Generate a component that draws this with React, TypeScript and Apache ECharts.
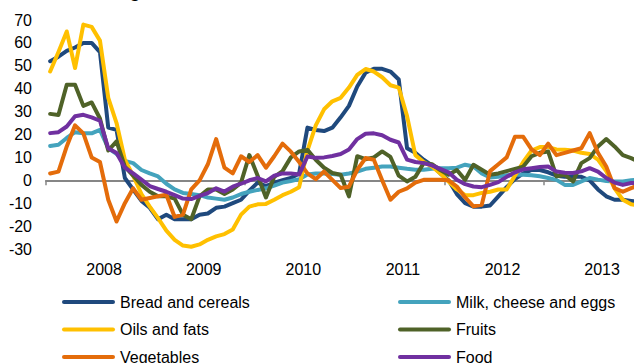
import React, { useEffect, useRef } from "react";
import * as echarts from "echarts";

// Monthly observations, June 2007 to May 2013
const months = [
  "2007-06", "2007-07", "2007-08", "2007-09", "2007-10", "2007-11", "2007-12",
  "2008-01", "2008-02", "2008-03", "2008-04", "2008-05", "2008-06", "2008-07", "2008-08", "2008-09", "2008-10", "2008-11", "2008-12",
  "2009-01", "2009-02", "2009-03", "2009-04", "2009-05", "2009-06", "2009-07", "2009-08", "2009-09", "2009-10", "2009-11", "2009-12",
  "2010-01", "2010-02", "2010-03", "2010-04", "2010-05", "2010-06", "2010-07", "2010-08", "2010-09", "2010-10", "2010-11", "2010-12",
  "2011-01", "2011-02", "2011-03", "2011-04", "2011-05", "2011-06", "2011-07", "2011-08", "2011-09", "2011-10", "2011-11", "2011-12",
  "2012-01", "2012-02", "2012-03", "2012-04", "2012-05", "2012-06", "2012-07", "2012-08", "2012-09", "2012-10", "2012-11", "2012-12",
  "2013-01", "2013-02", "2013-03", "2013-04", "2013-05",
];

const breadAndCereals = [
  52, 54, 56.5, 58, 60, 60, 56, 23, 22, 1,
  -4, -9, -12, -17, -15, -17, -17, -17, -15, -14.5,
  -12, -11.5, -10, -8.5, -4.5, -1, -2.5, -1, 0, 1,
  3, 23, 22, 21.5, 23, 27.5, 32.5, 41, 47, 48.7,
  48.7, 47.5, 44, 14, 12, 9, 6.5, 3, 0, -6,
  -10, -11.5, -11.5, -11, -7, -3, 0.5, 3, 4.5, 4.5,
  3.5, 2, 1.5, 1.5, 1.5, 0, -4, -7, -8.5, -8.5,
  -9, -9.5,
];

const milkCheeseEggs = [
  15, 15.5, 18.5, 21, 20.5, 20.5, 22, 14, 11.5, 8.5,
  7.5, 4.5, 3, 1.7, -1.5, -4, -5.5, -6, -6.5, -7.5,
  -8, -8.5, -7.5, -6, -5, -4.2, -3.5, -2.3, -1, -0.3,
  0.5, 2.5, 3, 3, 2.8, 2.4, 3, 3.8, 5, 5.5,
  6, 6, 5.5, 5, 4.6, 4.6, 5, 5.3, 5.3, 5.5,
  6.8, 6, 3, 1.2, 1.5, 2.2, 2.4, 2.4, 2.2, 1.8,
  1, 0.2, -2, -2, -0.5, 1, 0.3, -0.3, -0.5, -0.5,
  0, 0.3,
];

const oilsAndFats = [
  47.5, 56, 65, 49, 68, 67, 61, 36, 25, 9,
  2, -6, -11.5, -16.5, -22, -26, -28.5, -29, -28, -26,
  -24.5, -23.5, -21.5, -15, -11.5, -10.5, -10.3, -8.5, -6.5, -5,
  -3, 13, 24, 31, 34.5, 36, 40.5, 46, 48.6, 47.5,
  45, 41.5, 40.5, 28, 11, 8, 6, 3, -0.5, -4,
  -6.5, -6.5, -5.5, -5, -4, -4, 2, 8, 13, 14.5,
  14.5, 13.5, 13.3, 13, 12, 11.5, 9, 4, -3.5, -8.5,
  -10.5, -11,
];

const fruits = [
  29, 28.5, 41.7, 41.7, 32.5, 34, 27, 13, 17, 6,
  2, -2, -5, -7, -7, -8, -15, -17, -7, -4,
  -4, -6, -4, -1, 11, 2, -7.5, 1.5, 4, 10,
  12.6, 13.3, 9, 5.5, 3.2, 2.4, -7, 10.5, 9.2, 10,
  12.6, 10.2, 2, -0.5, 1.5, 7.5, 7, 4.5, 2.4, 4.5,
  0.2, 6.8, 4.6, 2.4, 3, 4, 5, 6, 10.5, 12,
  12.6, 1.7, 2.4, -0.5, 7.5, 9.7, 14.8, 18, 14.8, 11,
  9.7, 8,
];

const vegetables = [
  3, 3.8, 14.8, 24, 20.5, 10, 8, -8.5, -18, -10,
  -3.5, -8.5, -7.7, -7, -6.3, -16, -15, -4, 0, 7,
  18, 5.5, 3, 10.5, 8, 11, 5.5, 10.5, 16, 12.5,
  8, 3, 0.5, 3.8, 0.2, -3.4, -2.8, 4.6, 9.7, 9,
  0, -8.5, -5, -3.5, -1, 0.2, 0.2, 0.2, 0, -2.7,
  -7.5, -11.4, -10.7, 4, 7, 10, 19, 19, 13.5, 11,
  16, 11, 12, 13, 14, 20.6, 12, 6, -3.4, -5,
  -3.4, -2,
];

const food = [
  20.6, 21, 23.5, 28, 28.6, 27.5, 26, 14, 11.9, 5.5,
  3, 0.3, -2.5, -3.8, -5, -6.5, -8, -8.2, -6.8, -5.6,
  -3.5, -4.9, -2.8, -1.5, 0, 1, -0.5, 2, 3, 3,
  2.5, 10.4, 9.8, 10, 10.6, 11.5, 13.5, 18, 20.3, 20.5,
  19.7, 17.7, 16.5, 9, 8, 7.5, 6.5, 5, 3.5, 0.2,
  -1.7, -2.7, -3, -2, -0.8, 1.5, 3.5, 4.8, 5.3, 5.8,
  6, 3.8, 3.3, 3.2, 3.9, 5.3, 3.8, 1, -1, -2,
  -1.2, -1,
];

const seriesNames = [
  "Bread and cereals",
  "Milk, cheese and eggs",
  "Oils and fats",
  "Fruits",
  "Vegetables",
  "Food",
];
const seriesValues = [breadAndCereals, milkCheeseEggs, oilsAndFats, fruits, vegetables, food];
const seriesColors = ["#1F497D", "#44A3BD", "#FFC000", "#4F6228", "#E46C0A", "#7030A0"];

// Year boundaries (tick marks) and January positions (year labels), in month-index units
const tickPositions = [-0.5, 11.5, 23.5, 35.5, 47.5, 59.5, 71.5];
const yearLabelPositions = [6.5, 18.5, 30.5, 42.5, 54.5, 66.5];

const FONT = 'Arial, "Liberation Sans", Helvetica, sans-serif';
const CAPSULE = "path://M2,0L51,0A2,2,0,0,1,51,4L2,4A2,2,0,0,1,2,0Z";

export default function App() {
  const ref = useRef<HTMLDivElement>(null);

  useEffect(() => {
    if (!ref.current) return;
    const chart = echarts.init(ref.current, undefined, { renderer: "svg" });

    const legendBase = {
      orient: "vertical" as const,
      top: 293,
      padding: 0,
      itemWidth: 53,
      itemHeight: 4,
      itemGap: 9.5,
      icon: CAPSULE,
      textStyle: { fontSize: 16, fontFamily: FONT, color: "#000", lineHeight: 18 },
    };

    chart.setOption({
      animation: false,
      backgroundColor: "#fff",
      graphic: [
        {
          type: "text",
          x: 18,
          y: -10,
          style: {
            text: "Annual change",
            fontSize: 20,
            fontFamily: FONT,
            fill: "#000",
            verticalAlign: "middle",
          },
        },
      ],
      legend: [
        { ...legendBase, left: 62, data: [seriesNames[0], seriesNames[2], seriesNames[4]] },
        { ...legendBase, left: 398, data: [seriesNames[1], seriesNames[3], seriesNames[5]] },
      ],
      grid: { left: 46, top: 20, height: 229, width: 597.6, outerBoundsMode: "none" },
      xAxis: [
        {
          type: "value",
          position: "bottom",
          min: -0.5,
          max: 71.5,
          axisLine: { show: false, onZero: false },
          axisTick: { show: false },
          splitLine: { show: false },
          axisLabel: {
            customValues: yearLabelPositions,
            formatter: (v: number) => months[Math.ceil(v)].slice(0, 4),
            fontSize: 16,
            fontFamily: FONT,
            color: "#000",
            margin: 12,
          },
        },
        {
          type: "value",
          position: "top",
          min: -0.5,
          max: 71.5,
          axisLine: { show: true, onZero: true, lineStyle: { color: "#868686", width: 2 } },
          axisTick: {
            show: true,
            inside: true,
            length: 5,
            customValues: tickPositions,
            lineStyle: { color: "#868686", width: 1.5 },
          },
          axisLabel: { show: false },
          splitLine: { show: false },
        },
      ],
      yAxis: {
        type: "value",
        min: -30,
        max: 70,
        interval: 10,
        axisLine: { show: false },
        axisTick: { show: false },
        splitLine: { show: false },
        axisLabel: { fontSize: 16, fontFamily: FONT, color: "#000", margin: 14 },
      },
      series: seriesNames.map((name, k) => ({
        name,
        type: "line",
        xAxisIndex: 0,
        symbol: "none",
        color: seriesColors[k],
        lineStyle: { width: 4, color: seriesColors[k], cap: "round", join: "round" },
        data: seriesValues[k].map((v, i) => [i, v]),
      })),
    });

    return () => chart.dispose();
  }, []);

  return (
    <div
      style={{
        position: "fixed",
        left: 0,
        top: 0,
        width: 634,
        height: 363,
        overflow: "hidden",
        background: "#fff",
      }}
    >
      <div ref={ref} style={{ position: "absolute", left: 0, top: 0, width: 680, height: 400 }} />
    </div>
  );
}
